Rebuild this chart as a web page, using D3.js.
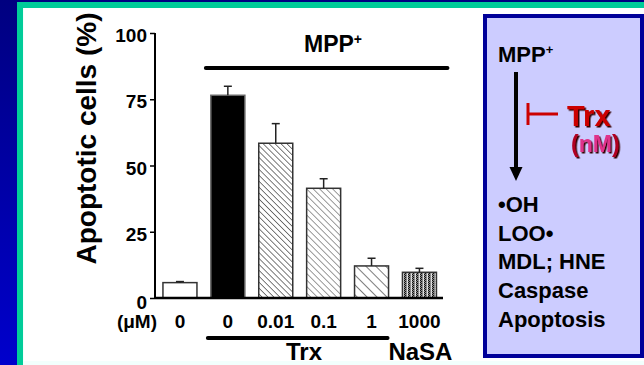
<!DOCTYPE html>
<html>
<head>
<meta charset="utf-8">
<script src="https://cdn.jsdelivr.net/npm/d3@7.9.0/dist/d3.min.js"></script>
<style>
  body { margin: 0; background: #fff; }
  svg { display: block; font-family: "Liberation Sans", Arial, sans-serif; font-weight: bold; }
</style>
</head>
<body>
<div id="chart"></div>
<script>
// ---------------------- Data ----------------------
const groups = ['control', 'mpp', 'trx001', 'trx01', 'trx1', 'nasa'];
const doseLabels = ['0', '0', '0.01', '0.1', '1', '1000'];
const meanValues = [5.8, 76.5, 58.4, 41.4, 12.1, 9.7];
const errValues = [0.4, 3.4, 7.4, 3.6, 2.9, 1.5];
const yTicks = [0, 25, 50, 75, 100];
const pathway = ['•OH', 'LOO•', 'MDL; HNE', 'Caspase', 'Apoptosis'];

const width = 644, height = 365;

const svg = d3.select('#chart').append('svg')
  .attr('width', width).attr('height', height);

const defs = svg.append('defs');

// ---------------------- Background ----------------------
const grad = defs.append('linearGradient').attr('id', 'side')
  .attr('x1', 0).attr('y1', 0).attr('x2', 0).attr('y2', 1);
grad.append('stop').attr('offset', 0).attr('stop-color', '#000080');
grad.append('stop').attr('offset', 1).attr('stop-color', '#0000cc');

svg.append('rect').attr('width', width).attr('height', height).attr('fill', 'url(#side)');
svg.append('rect').attr('x', 17).attr('y', 2).attr('width', width - 17).attr('height', height).attr('fill', '#00cc99');
svg.append('rect').attr('x', 23).attr('y', 8).attr('width', width - 23).attr('height', height).attr('fill', '#f2fffd');
svg.append('rect').attr('x', 24).attr('y', 8).attr('width', width - 24).attr('height', 353).attr('fill', '#ffffff');

// shadow for the red Trx labels
const shadow = defs.append('filter').attr('id', 'shadow')
  .attr('x', '-10%').attr('y', '-10%').attr('width', '130%').attr('height', '130%');
shadow.append('feDropShadow').attr('dx', 1.5).attr('dy', 1.5).attr('stdDeviation', 0)
  .attr('flood-color', '#330000').attr('flood-opacity', 1);

// ---------------------- Patterns ----------------------
function hatch(id, spacing, color, sw) {
  const p = defs.append('pattern').attr('id', id)
    .attr('patternUnits', 'userSpaceOnUse')
    .attr('width', spacing).attr('height', spacing)
    .attr('patternTransform', 'rotate(-45)');
  p.append('rect').attr('width', spacing).attr('height', spacing).attr('fill', '#fff');
  p.append('line').attr('x1', 0).attr('y1', 0).attr('x2', 0).attr('y2', spacing)
    .attr('stroke', color).attr('stroke-width', sw);
}
hatch('h1', 4.2, '#111', 1.1);
hatch('h2', 4.6, '#777', 1.5);
hatch('h3', 7, '#111', 1.1);

const dots = defs.append('pattern').attr('id', 'dots')
  .attr('patternUnits', 'userSpaceOnUse').attr('width', 4).attr('height', 2);
dots.append('rect').attr('width', 4).attr('height', 2).attr('fill', '#8a8a8a');
dots.append('rect').attr('x', 0).attr('y', 0).attr('width', 1).attr('height', 1).attr('fill', '#111');
dots.append('rect').attr('x', 1).attr('y', 1).attr('width', 1).attr('height', 1).attr('fill', '#111');
dots.append('rect').attr('x', 3).attr('y', 0).attr('width', 1).attr('height', 1).attr('fill', '#eee');
dots.append('rect').attr('x', 3).attr('y', 1).attr('width', 1).attr('height', 1).attr('fill', '#ccc');

const fills = ['#ffffff', '#000000', 'url(#h1)', 'url(#h2)', 'url(#h3)', 'url(#dots)'];

// ---------------------- Scales ----------------------
const x = d3.scaleBand().domain(groups).range([156, 443.4])
  .paddingInner(0.29).paddingOuter(0.145);
const y = d3.scaleLinear().domain([0, 100]).range([298, 33]);
const bw = x.bandwidth();

// ---------------------- Bars ----------------------
const bars = svg.append('g');
bars.selectAll('rect')
  .data(groups)
  .join('rect')
  .attr('x', d => x(d))
  .attr('y', (d, i) => y(meanValues[i]))
  .attr('width', bw)
  .attr('height', (d, i) => y(0) - y(meanValues[i]))
  .attr('fill', (d, i) => fills[i])
  .attr('stroke', (d, i) => i === 1 ? '#666' : '#333')
  .attr('stroke-width', 1.5);

// error bars
const err = svg.append('g').attr('stroke', '#222').attr('stroke-width', 1.5);
groups.forEach((g, i) => {
  const cx = x(g) + bw / 2;
  err.append('line').attr('x1', cx).attr('x2', cx)
    .attr('y1', y(meanValues[i])).attr('y2', y(meanValues[i] + errValues[i]));
  err.append('line').attr('x1', cx - 4).attr('x2', cx + 4)
    .attr('y1', y(meanValues[i] + errValues[i])).attr('y2', y(meanValues[i] + errValues[i]));
});

// ---------------------- Axes ----------------------
const yAxis = svg.append('g')
  .attr('transform', 'translate(155,0)')
  .call(d3.axisLeft(y).tickValues(yTicks).tickSize(5).tickPadding(3));
yAxis.select('.domain').attr('stroke', '#000').attr('stroke-width', 2).attr('d', `M0,${y(100)}V${y(0)}`);
yAxis.selectAll('.tick line').attr('stroke', '#000').attr('stroke-width', 1.5);
yAxis.selectAll('.tick text')
  .attr('font-family', '"Liberation Sans", Arial, sans-serif')
  .attr('font-weight', 'bold').attr('font-size', 19).attr('fill', '#000')
  .attr('dy', (d) => d === 0 ? '0.55em' : '0.45em');

svg.append('line').attr('x1', 155).attr('x2', 443).attr('y1', y(0)).attr('y2', y(0))
  .attr('stroke', '#000').attr('stroke-width', 2.5);

svg.append('text')
  .attr('transform', `translate(96,${(y(0) + y(100)) / 2 - 27}) rotate(-90)`)
  .attr('text-anchor', 'middle').attr('font-size', 28)
  .text('Apoptotic cells (%)');

// ---------------------- Group annotations ----------------------
const title = svg.append('text').attr('x', 333).attr('y', 52)
  .attr('text-anchor', 'middle').attr('font-size', 23);
title.append('tspan').text('MPP');
title.append('tspan').attr('font-size', 14).attr('dy', -8).text('+');

svg.append('line')
  .attr('x1', x(groups[1]) - 5).attr('x2', x(groups[5]) + bw + 11)
  .attr('y1', 68).attr('y2', 68)
  .attr('stroke', '#000').attr('stroke-width', 4).attr('stroke-linecap', 'round');

svg.append('text').attr('x', 157).attr('y', 328).attr('text-anchor', 'end')
  .attr('font-size', 19).text('(μM)');

svg.append('g').selectAll('text')
  .data(groups)
  .join('text')
  .attr('x', d => x(d) + bw / 2)
  .attr('y', 328)
  .attr('text-anchor', 'middle')
  .attr('font-size', 19)
  .text((d, i) => doseLabels[i]);

svg.append('line')
  .attr('x1', x(groups[1]) - 3).attr('x2', x(groups[4]) + bw - 1)
  .attr('y1', 338).attr('y2', 338)
  .attr('stroke', '#000').attr('stroke-width', 4).attr('stroke-linecap', 'round');

svg.append('text').attr('x', 304).attr('y', 360).attr('text-anchor', 'middle')
  .attr('font-size', 24).text('Trx');
svg.append('text').attr('x', x(groups[5]) + bw / 2 + 1).attr('y', 360).attr('text-anchor', 'middle')
  .attr('font-size', 24).text('NaSA');

// ---------------------- Pathway box ----------------------
svg.append('rect').attr('x', 485).attr('y', 16).attr('width', 157).attr('height', 340)
  .attr('fill', '#ccccff').attr('stroke', '#000099').attr('stroke-width', 4);

const bt = svg.append('text').attr('x', 498).attr('y', 62).attr('font-size', 22);
bt.append('tspan').text('MPP');
bt.append('tspan').attr('font-size', 13).attr('dy', -8).text('+');

svg.append('line').attr('x1', 516).attr('x2', 516).attr('y1', 72).attr('y2', 170)
  .attr('stroke', '#000').attr('stroke-width', 4);
svg.append('path').attr('d', 'M509.5,167L522.5,167L516,181Z').attr('fill', '#000');

const red = svg.append('g').attr('stroke', '#cc0000').attr('stroke-width', 3);
red.append('line').attr('x1', 528).attr('x2', 528).attr('y1', 103).attr('y2', 125);
red.append('line').attr('x1', 528).attr('x2', 558).attr('y1', 114).attr('y2', 114);

svg.append('text').attr('x', 567).attr('y', 126).attr('font-size', 29)
  .attr('fill', '#cc0000').attr('filter', 'url(#shadow)').text('Trx');

const nm = svg.append('text').attr('x', 571).attr('y', 152).attr('font-size', 23)
  .attr('fill', '#b00020').attr('filter', 'url(#shadow)');
nm.append('tspan').text('(');
nm.append('tspan').attr('fill', '#e0308a').text('nM');
nm.append('tspan').text(')');

svg.append('g').selectAll('text')
  .data(pathway)
  .join('text')
  .attr('x', 498)
  .attr('y', (d, i) => 212 + i * 28.7)
  .attr('font-size', 22)
  .text(d => d);
</script>
</body>
</html>
